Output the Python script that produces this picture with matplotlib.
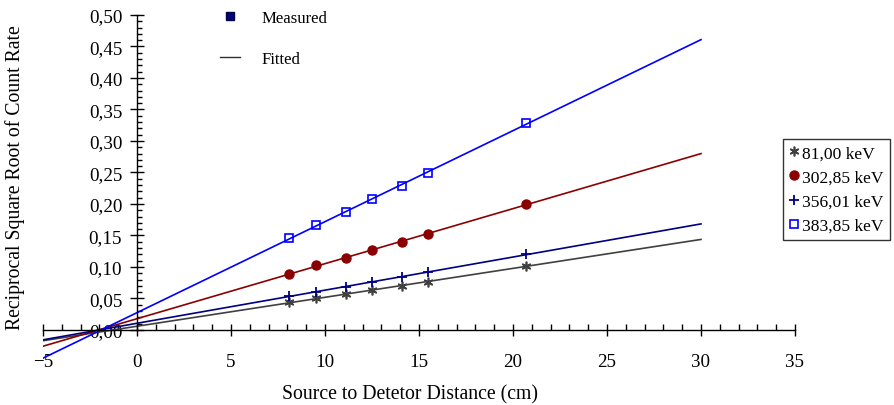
import numpy as np
from matplotlib import pyplot as plt
from matplotlib.lines import Line2D
from matplotlib.ticker import MultipleLocator, FixedLocator, FuncFormatter

plt.rcParams['font.family'] = ['Liberation Serif', 'DejaVu Serif']

# 数据 (source to detector distance, cm)
distance = [8.1, 9.5, 11.1, 12.5, 14.1, 15.5, 20.7]

y_81 = [0.044, 0.050, 0.0566, 0.063, 0.0693, 0.0767, 0.102]
y_302 = [0.0894, 0.1026, 0.114, 0.127, 0.139, 0.152, 0.2005]
y_356 = [0.0535, 0.061, 0.0688, 0.076, 0.0846, 0.0915, 0.120]
y_383 = [0.1456, 0.166, 0.188, 0.208, 0.2286, 0.249, 0.329]

labels = ['81,00 keV', '302,85 keV', '356,01 keV', '383,85 keV']

fig = plt.figure(figsize=(8.95, 4.06), dpi=100)
ax = fig.add_axes([43 / 895, 1 - 365.6 / 406, 752 / 895, 349.6 / 406])

fs_tick = 13.7
fs_label = 14.2
x_fit = np.array([-5, 30])

series = [
    (y_81, '#404040', dict(marker=(6, 2, 0), ms=7, mfc='#404040', mec='#404040', mew=1.2)),
    (y_302, '#8b0000', dict(marker='o', ms=6.5, mfc='#8b0000', mec='#8b0000')),
    (y_356, '#000080', dict(marker='+', ms=7, mec='#000080', mew=1.3)),
    (y_383, '#0000ff', dict(marker='s', ms=6, mfc='none', mec='#0000ff', mew=1.2)),
]

handles = []
for (ys, col, mk), lab in zip(series, labels):
    k, b = np.polyfit(distance, ys, 1)
    ax.plot(x_fit, k * x_fit + b, color=col, lw=1.2, zorder=2)
    ax.plot(distance, ys, ls='none', zorder=3, **mk)
    handles.append(Line2D([], [], ls='none', label=lab, **mk))

# 坐标轴
ax.spines['left'].set_position(('data', 0))
ax.spines['bottom'].set_position(('data', 0))
ax.spines['left'].set_bounds(0, 0.5)
ax.spines['top'].set_visible(False)
ax.spines['right'].set_visible(False)
for s in ('left', 'bottom'):
    ax.spines[s].set_linewidth(1.0)

ax.xaxis.set_major_locator(MultipleLocator(5))
ax.xaxis.set_minor_locator(MultipleLocator(1))
ax.yaxis.set_major_locator(FixedLocator(np.arange(0, 0.501, 0.05)))
ax.yaxis.set_minor_locator(FixedLocator(np.arange(0, 0.501, 0.01)))
ax.yaxis.set_major_formatter(FuncFormatter(lambda v, p: f'{v:.2f}'.replace('.', ',')))

ax.tick_params(axis='x', which='major', direction='inout', length=8.6, width=1,
               labelsize=fs_tick, pad=12)
ax.tick_params(axis='x', which='minor', direction='in', length=4.3, width=1)
ax.tick_params(axis='y', which='major', direction='inout', length=9.4, width=1,
               labelsize=fs_tick, pad=6)
ax.tick_params(axis='y', which='minor', direction='in', length=3.6, width=1)

ax.set_xlim(-5, 35)
ax.set_ylim(-0.055, 0.5)

ax.set_xlabel('Source to Detetor Distance (cm)', fontsize=fs_label)
ax.set_ylabel('Reciprocal Square Root of Count Rate', fontsize=fs_label)
ax.xaxis.set_label_coords(0.488, -0.055)
ax.yaxis.set_label_coords(-0.024, 0.539)

# 图例
leg = fig.legend(handles=handles, loc='upper left',
                 bbox_to_anchor=(783 / 895, 1 - 140 / 406), fontsize=12.6,
                 frameon=True, fancybox=False, edgecolor='black',
                 handlelength=0.6, handletextpad=0.15, borderpad=0.35,
                 labelspacing=0.45, borderaxespad=0)
leg.get_frame().set_linewidth(1.0)

top_handles = [
    Line2D([], [], ls='none', marker='s', ms=6, mfc='#000080', mec='#000040',
           label='Measured'),
    Line2D([], [], color='#303030', lw=1, label='Fitted'),
]
fig.legend(handles=top_handles, loc='upper left', bbox_to_anchor=(220 / 895, 1 - 11 / 406),
           fontsize=12.1, frameon=False, handlelength=1.2, handletextpad=1.3,
           labelspacing=1.5, borderaxespad=0, borderpad=0)

fig.savefig('out.png', dpi=100)
